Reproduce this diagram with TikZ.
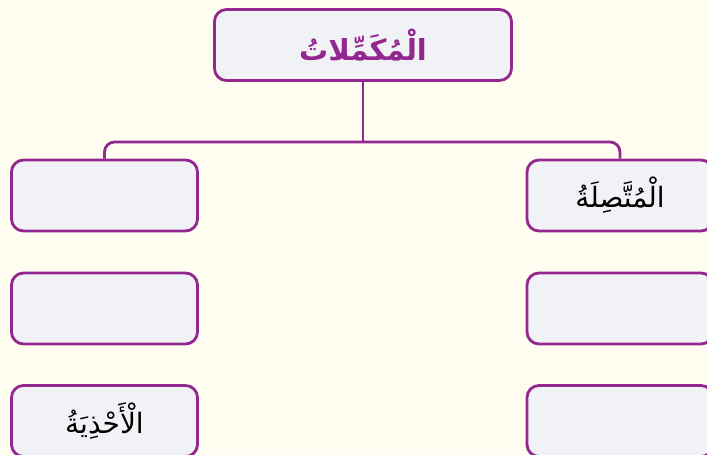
\documentclass[tikz,border=0pt]{standalone}
\usepackage{fontspec}
\newfontfamily\arabicfont[Script=Arabic]{DejaVu Sans}
\TeXXeTstate=1
\definecolor{bgcream}{HTML}{FFFCF0}
\definecolor{boxfill}{HTML}{F1F2F5}
\definecolor{plum}{HTML}{92278F}
\tikzset{
  box/.style={draw=plum, line width=2.8pt, fill=boxfill, rounded corners=12pt,
    minimum width=186pt, minimum height=71pt, inner sep=0pt, font=\arabicfont\fontsize{28}{32}\selectfont},
  topbox/.style={box, minimum width=297pt, minimum height=71pt, text=plum,
    font=\arabicfont\bfseries\fontsize{29}{33}\selectfont},
  link/.style={draw=plum, line width=2.8pt, rounded corners=10pt}
}
\begin{document}
\begin{tikzpicture}[x=1pt,y=-1pt]
\useasboundingbox (0,0) rectangle (707,455);
\fill[bgcream] (0,0) rectangle (707,455);
\clip (0,0) rectangle (707,455);
\coordinate (hub) at (363,142);
\node[box] (l1) at (104.5,195.5) {};
\node[box] (r1) at (620,195.5) {\beginR الْمُتَّصِلَةُ\endR};
\node[topbox] (top) at (363,45) {\beginR الْمُكَمِّلاتُ\endR};
\draw[link] (l1.north) -- (l1.north |- hub) -- (r1.north |- hub) -- (r1.north);
\draw[link] (top.south) -- (hub);
\node[box] (r2) at (620,308.5) {};
\node[box] (r3) at (620,421) {};
\node[box] (l2) at (104.5,308.5) {};
\node[box] (l3) at (104.5,421) {\beginR الْأَحْذِيَةُ\endR};
\end{tikzpicture}
\end{document}
